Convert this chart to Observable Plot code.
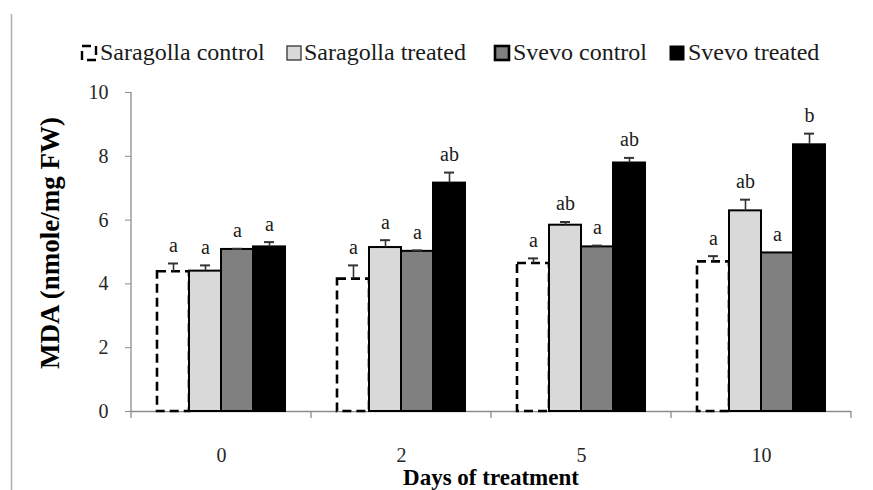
<!DOCTYPE html>
<html>
<head>
<meta charset="utf-8">
<script src="https://cdn.jsdelivr.net/npm/d3@7"></script>
<script src="https://cdn.jsdelivr.net/npm/@observablehq/plot@0.6"></script>
<style>
  html, body { margin: 0; padding: 0; background: #fff; }
  #wrap { position: relative; width: 873px; height: 490px; background: #fff; overflow: hidden; }
  #chart { position: absolute; left: 0; top: 70px; }
  #overlay { position: absolute; left: 0; top: 0; pointer-events: none; }
  text { font-family: "Liberation Serif", "Times New Roman", serif; }
</style>
</head>
<body>
<div id="wrap">
  <div id="chart"></div>
  <svg id="overlay" width="873" height="490"></svg>
</div>
<script>
// ---- data ----
const days = ["0", "2", "5", "10"];
const series = ["Saragolla control", "Saragolla treated", "Svevo control", "Svevo treated"];
const fills = ["#ffffff", "#d9d9d9", "#808080", "#000000"];

const saragollaControl = [4.38, 4.15, 4.64, 4.69];
const saragollaTreated = [4.40, 5.14, 5.84, 6.29];
const svevoControl     = [5.08, 5.02, 5.16, 4.97];
const svevoTreated     = [5.16, 7.16, 7.79, 8.36];

const saragollaControlErr = [0.26, 0.43, 0.16, 0.18];
const saragollaTreatedErr = [0.18, 0.23, 0.10, 0.35];
const svevoControlErr     = [0.02, 0.03, 0.04, 0.00];
const svevoTreatedErr     = [0.15, 0.33, 0.16, 0.35];

const saragollaControlLbl = ["a", "a", "a", "a"];
const saragollaTreatedLbl = ["a", "a", "ab", "ab"];
const svevoControlLbl     = ["a", "a", "a", "a"];
const svevoTreatedLbl     = ["a", "ab", "ab", "b"];

const yTicks = [0, 2, 4, 6, 8, 10];

// ---- table ----
const valueSets = [saragollaControl, saragollaTreated, svevoControl, svevoTreated];
const errSets = [saragollaControlErr, saragollaTreatedErr, svevoControlErr, svevoTreatedErr];
const lblSets = [saragollaControlLbl, saragollaTreatedLbl, svevoControlLbl, svevoTreatedLbl];
const rows = [];
days.forEach((day, i) => {
  series.forEach((s, j) => {
    rows.push({day, series: s, value: valueSets[j][i], err: errSets[j][i], label: lblSets[j][i]});
  });
});
const dashed = rows.filter(d => d.series === series[0]);
const solid = rows.filter(d => d.series !== series[0]);

const font = "Liberation Serif, Times New Roman, serif";

const plot = Plot.plot({
  width: 873,
  height: 420,
  marginTop: 22,
  marginBottom: 79,
  marginLeft: 131,
  marginRight: 22,
  style: {fontFamily: font, background: "#fff", overflow: "visible"},
  fx: {domain: days, padding: 0, label: null},
  x: {domain: series, paddingInner: 0, paddingOuter: 0.75, axis: null},
  y: {domain: [0, 10], label: null},
  color: {domain: series, range: fills},
  marks: [
    Plot.axisY({ticks: yTicks, tickSize: 6, tickPadding: 17, fontSize: 20, stroke: "#8c8c8c", fill: "#262626", label: null}),
    Plot.axisFx({anchor: "bottom", tickSize: 0, tickPadding: 36, fontSize: 20, fill: "#262626", label: null}),
    Plot.ruleY([0], {stroke: "#8c8c8c", strokeWidth: 1.3}),
    Plot.barY(dashed, {fx: "day", x: "series", y: "value", fill: "#fff", stroke: "#000", strokeWidth: 2.6, strokeDasharray: "9,5"}),
    Plot.barY(solid, {fx: "day", x: "series", y: "value", fill: "series", stroke: "#000", strokeWidth: 2}),
    Plot.ruleX(rows, {fx: "day", x: "series", y1: "value", y2: d => d.value + d.err, stroke: "#333", strokeWidth: 1.6}),
    Plot.tickY(rows.filter(d => d.err > 0), {fx: "day", x: "series", y: d => d.value + d.err, stroke: "#333", strokeWidth: 2, insetLeft: 11, insetRight: 11}),
    Plot.text(rows, {fx: "day", x: "series", y: d => d.value + d.err, text: "label", dy: -18, fontSize: 20, fill: "#1a1a1a"})
  ]
});
document.getElementById("chart").appendChild(plot);

// y-axis domain line and category boundary ticks from the plot's own scales
const fxS = plot.scale("fx");
const yS = plot.scale("y");
const svg = d3.select(plot);
const x0 = fxS.apply(days[0]);
const bw = fxS.bandwidth;
svg.append("line")
  .attr("x1", x0).attr("x2", x0)
  .attr("y1", yS.apply(0)).attr("y2", yS.apply(10))
  .attr("stroke", "#8c8c8c").attr("stroke-width", 1.3);
const edges = days.map(d => fxS.apply(d)).concat([fxS.apply(days[days.length - 1]) + bw]);
svg.append("g").selectAll("line").data(edges).join("line")
  .attr("x1", d => d).attr("x2", d => d)
  .attr("y1", yS.apply(0)).attr("y2", yS.apply(0) + 7)
  .attr("stroke", "#8c8c8c").attr("stroke-width", 1.3);

// ---- overlay: legend, axis titles, page border ----
const ov = d3.select("#overlay");
ov.append("line").attr("x1", 11.5).attr("x2", 11.5).attr("y1", 14).attr("y2", 490)
  .attr("stroke", "#b0b0b0").attr("stroke-width", 1.5);

const legendIconX = [82, 287, 495, 670];
const legendTextX = [100, 304, 513, 688];
series.forEach((s, j) => {
  const r = ov.append("rect").attr("x", legendIconX[j]).attr("y", 46).attr("width", 14).attr("height", 14);
  if (j === 0) {
    r.attr("fill", "#fff").attr("stroke", "#000").attr("stroke-width", 2.4).attr("stroke-dasharray", "9,5");
  } else if (j === 1) {
    r.attr("fill", fills[j]).attr("stroke", "#333").attr("stroke-width", 1.3);
  } else if (j === 2) {
    r.attr("fill", fills[j]).attr("stroke", "#000").attr("stroke-width", 2.6);
  } else {
    r.attr("fill", fills[j]).attr("stroke", "#000").attr("stroke-width", 1);
  }
  ov.append("text").attr("x", legendTextX[j]).attr("y", 60)
    .attr("font-size", 24).attr("fill", "#1a1a1a").text(s);
});

ov.append("text")
  .attr("transform", "translate(59,243) rotate(-90)")
  .attr("text-anchor", "middle").attr("font-size", 27).attr("font-weight", "bold").attr("fill", "#000")
  .text("MDA (nmole/mg FW)");
ov.append("text")
  .attr("x", 491).attr("y", 485)
  .attr("text-anchor", "middle").attr("font-size", 23).attr("font-weight", "bold").attr("fill", "#000")
  .text("Days of treatment");
</script>
</body>
</html>
